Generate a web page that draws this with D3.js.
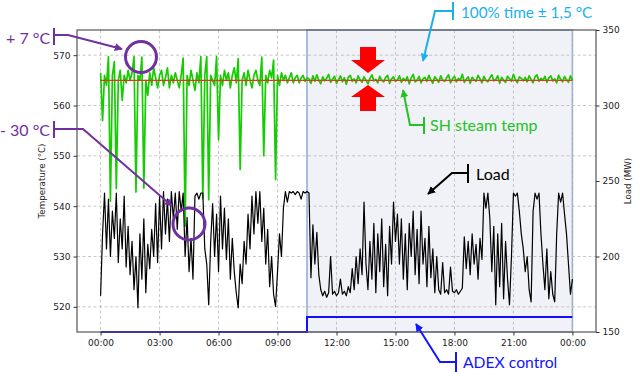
<!DOCTYPE html>
<html><head><meta charset="utf-8">
<script src="https://cdn.jsdelivr.net/npm/d3@7"></script>
<style>body{margin:0;background:#fff}svg{display:block}</style>
</head><body>
<script>
// ---- data ----
const hourStep = 0.1; // sampling step of both series (hours)
const tempValues = [
566.5,557,566,564,569.7,541,566,568.7,543.5,565,
567,561,566,564.5,567,565,566.5,569.7,542.8,566,
565,569.6,543.6,565,562,566.5,564,567.5,565.5,563.5,
566,567,564,565.5,567.5,563.5,566,564.5,566.5,565,
563.5,566,569.4,536,566,564,567,565,563,566.5,
564.5,569.7,541.5,566,569.7,541.3,566,565,564,569.7,
553.2,566,564,567,565,566.5,563.5,566,567.5,564.5,
569.3,547.3,565,566.5,564,567,565,563.5,566,567,
565,564,569.6,550,566,564.5,567,565.5,569,545.3,
566,564,566.5,565,566,564.5,565.5,566.5,564.5,565.5,
566,564.5,565.5,566,564.8,565.5,
565.3,564.4,565.9,564.8,566.1,565.0,564.3,565.7,564.9,565.4,
566.2,564.6,565.2,565.8,564.4,565.1,565.9,564.7,565.5,564.2,
565.6,566.0,564.8,565.3,564.5,565.9,565.1,564.6,565.7,565.0,
564.3,565.4,566.1,564.9,565.2,564.5,565.8,565.0,564.7,565.6,
566.0,564.4,565.3,565.7,564.8,565.1,565.9,564.6,565.4,564.9,
565.7,564.3,565.5,566.2,564.7,565.0,565.8,564.5,565.3,565.6,
564.8,566.0,565.1,564.4,565.7,565.2,564.6,565.9,565.0,564.8,
565.5,566.1,564.5,565.3,565.8,564.7,565.4,565.0,566.2,564.6,
565.2,565.7,564.4,565.6,565.1,564.8,566.0,565.3,564.5,565.8,
565.0,564.7,565.5,566.1,564.9,565.2,565.9,564.4,565.6,565.0,
564.6,565.8,565.3,564.8,566.2,565.1,564.5,565.7,565.4,564.9,
565.6,564.7,565.9,565.2,564.5,565.7,566.1,564.8,565.4,565.0,
565.8,564.6,565.5,565.9,564.9,565.3,564.5,566.0,565.2,564.7,
565.8,565.1,564.6,565.9,565.0
];
const loadValues = [
174,215,242,205,238,200,230,212,242,196,
225,205,240,193,220,188,210,178,200,166,
215,185,225,176,208,192,218,200,235,196,
240,205,243,215,238,210,243,225,242,218,
243,230,242,200,226,190,212,185,240,242,
238,242,242,205,195,168,210,235,200,228,
190,240,205,232,198,225,185,212,190,176,
166,195,182,210,195,228,205,240,215,243,
222,243,210,232,195,218,180,200,175,167,
190,215,200,232,243,236,243,242,243,241,
243,242,238,243,242,243,242,186,221,195,
216,188,178,174,177,173,176,200,175,177,
174,176,185,175,177,174,180,176,192,178,
200,182,205,188,236,195,178,210,185,222,
176,215,190,225,180,208,174,220,195,236,
210,228,195,225,185,215,178,222,200,230,
188,218,182,230,195,212,180,220,186,205,
176,200,178,175,196,176,178,175,193,177,
176,178,175,177,179,213,192,210,188,215,
195,208,185,212,198,242,232,242,225,190,
220,168,215,180,222,172,210,185,168,200,
242,240,242,230,215,205,190,200,178,170,
230,242,238,242,215,195,178,205,172,190,
175,170,215,242,236,242,228,215,195,175,185
];
const setpointTemp = 565;
const adexTimes = [0, 10.5, 10.5, 24];
const adexValues = [150, 150, 160, 160];
const adexSpan = [10.5, 24];
const xTicks = [0, 3, 6, 9, 12, 15, 18, 21, 24];
const xTickLabels = ["00:00","03:00","06:00","09:00","12:00","15:00","18:00","21:00","00:00"];
const tempTicks = [520, 530, 540, 550, 560, 570];
const loadTicks = [150, 200, 250, 300, 350];

// ---- layout ----
const W = 644, H = 372;
const L = 77, R = 596, T = 30, B = 332;
const svg = d3.select("body").append("svg").attr("width", W).attr("height", H)
  .style("font-family", "DejaVu Sans, sans-serif");

const x = d3.scaleLinear().domain([-1.2, 25.2]).range([L, R]);
const yT = d3.scaleLinear().domain([515, 575]).range([B, T]);
const yL = d3.scaleLinear().domain([150, 350]).range([B, T]);

// shaded ADEX span
svg.append("rect").attr("x", x(adexSpan[0])).attr("y", T)
  .attr("width", x(adexSpan[1]) - x(adexSpan[0])).attr("height", B - T)
  .attr("fill", "#f1f1f8").attr("stroke", "#8eaad6").attr("stroke-width", 1.5);

// grid
const grid = svg.append("g").attr("stroke", "#b8b8b8").attr("stroke-width", 0.8).attr("stroke-dasharray", "3,2.5");
xTicks.forEach(t => grid.append("line").attr("x1", x(t)).attr("x2", x(t)).attr("y1", T).attr("y2", B));
tempTicks.forEach(t => grid.append("line").attr("x1", L).attr("x2", R).attr("y1", yT(t)).attr("y2", yT(t)));

// series
const tempData = tempValues.map((v, i) => [i * hourStep, v]);
const loadData = loadValues.map((v, i) => [i * hourStep, v]);

svg.append("path").datum(tempData)
  .attr("d", d3.line().x(d => x(d[0])).y(d => yT(d[1])))
  .attr("fill", "none").attr("stroke", "#14cc00").attr("stroke-width", 1.7).attr("stroke-linejoin", "round");

svg.append("path").datum([[0, setpointTemp], [24, setpointTemp]])
  .attr("d", d3.line().x(d => x(d[0])).y(d => yT(d[1])))
  .attr("stroke", "#e8321e").attr("stroke-width", 1.4);

svg.append("path").datum(loadData)
  .attr("d", d3.line().x(d => x(d[0])).y(d => yL(d[1])))
  .attr("fill", "none").attr("stroke", "#000").attr("stroke-width", 1.2).attr("stroke-linejoin", "round");

svg.append("path").datum(adexTimes.map((t, i) => [t, adexValues[i]]))
  .attr("d", d3.line().x(d => x(d[0])).y(d => yL(d[1])))
  .attr("fill", "none").attr("stroke", "#1010ff").attr("stroke-width", 2);

// frame
svg.append("rect").attr("x", L).attr("y", T).attr("width", R - L).attr("height", B - T)
  .attr("fill", "none").attr("stroke", "#555").attr("stroke-width", 1.2);

// axes
const fmt = (g) => { g.select(".domain").remove();
  g.selectAll(".tick line").attr("stroke", "#333");
  g.selectAll(".tick text").attr("fill", "#222").attr("font-size", "9px").attr("font-family", "DejaVu Sans, sans-serif"); };
svg.append("g").attr("transform", `translate(0,${B})`)
  .call(d3.axisBottom(x).tickValues(xTicks).tickFormat((d, i) => xTickLabels[i]).tickSize(3.5).tickPadding(4)).call(fmt);
svg.append("g").attr("transform", `translate(${L},0)`)
  .call(d3.axisLeft(yT).tickValues(tempTicks).tickSize(3.5).tickPadding(3)).call(fmt);
svg.append("g").attr("transform", `translate(${R},0)`)
  .call(d3.axisRight(yL).tickValues(loadTicks).tickSize(3.5).tickPadding(3)).call(fmt);

svg.append("text").attr("transform", `translate(45,${(T + B) / 2}) rotate(-90)`)
  .attr("text-anchor", "middle").attr("font-size", "8.7px").attr("fill", "#222").text("Temperature (°C)");
svg.append("text").attr("transform", `translate(631,${(T + B) / 2}) rotate(-90)`)
  .attr("text-anchor", "middle").attr("font-size", "8.7px").attr("fill", "#222").text("Load (MW)");

// ---- annotations ----
const defs = svg.append("defs");
function marker(id, color) {
  defs.append("marker").attr("id", id).attr("viewBox", "0 0 10 10").attr("refX", 9).attr("refY", 5)
    .attr("markerWidth", 4).attr("markerHeight", 4).attr("orient", "auto")
    .append("path").attr("d", "M0,0 L10,5 L0,10 z").attr("fill", color);
}
const purple = "#7030a0", cyan = "#1ab0ee", green = "#22c322", blue = "#1515ff";
marker("mP", purple); marker("mC", cyan); marker("mG", green); marker("mK", "#000"); marker("mB", blue);
const aFont = "Lato, 'Open Sans', sans-serif";
function callout(pts, bar, color, mk, label, tx, ty, fs) {
  svg.append("line").attr("x1", bar[0]).attr("x2", bar[0]).attr("y1", bar[1]).attr("y2", bar[2])
    .attr("stroke", color).attr("stroke-width", 2);
  svg.append("path").attr("d", d3.line()(pts)).attr("fill", "none").attr("stroke", color)
    .attr("stroke-width", 2).attr("marker-end", `url(#${mk})`);
  svg.append("text").attr("x", tx).attr("y", ty).attr("fill", color).attr("font-family", aFont)
    .attr("font-size", (fs || 16) + "px").text(label);
}
callout([[54, 35], [68, 35], [122, 49]], [54, 28, 45], purple, "mP", "+ 7 °C", 6, 44);
callout([[54, 129], [83, 129], [172, 206]], [54, 121, 138], purple, "mP", "- 30 °C", 0, 136);
svg.append("circle").attr("cx", 141).attr("cy", 57).attr("r", 15.5).attr("fill", "none").attr("stroke", purple).attr("stroke-width", 3);
svg.append("circle").attr("cx", 189).attr("cy", 224).attr("r", 16).attr("fill", "none").attr("stroke", purple).attr("stroke-width", 3);

callout([[453, 11], [435, 11], [423, 61]], [453, 2, 20], cyan, "mC", "100% time ± 1,5 °C", 461, 18, 15.3);
callout([[424, 125], [410, 125], [403, 90]], [424, 117, 134], green, "mG", "SH steam temp", 430, 131);
callout([[468, 173], [452, 173], [428, 194]], [468, 164, 183], "#000", "mK", "Load", 476, 180);
callout([[456, 362], [440, 362], [416, 324]], [456, 352, 372], blue, "mB", "ADEX control", 463, 368, 15.7);

// red block arrows
svg.append("path").attr("d", "M360,47 L376,47 L376,60 L385,60 L368,73 L351,60 L360,60 Z").attr("fill", "#ff0000");
svg.append("path").attr("d", "M360,111 L376,111 L376,97 L385,97 L368,85 L351,97 L360,97 Z").attr("fill", "#ff0000");
</script>
</body></html>
